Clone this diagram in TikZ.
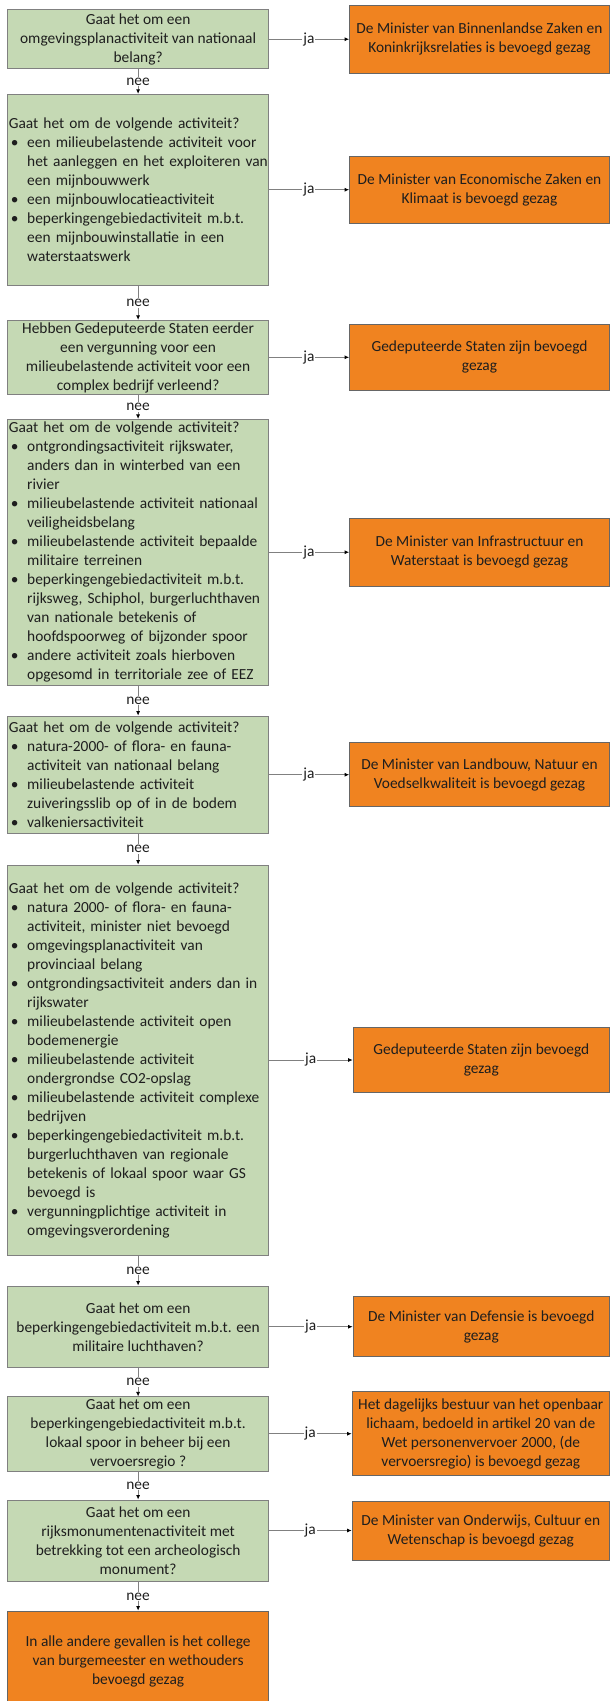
\documentclass[tikz,border=0pt]{standalone}
\usepackage{fontspec}
\setmainfont{Carlito}
\usetikzlibrary{arrows.meta}

\definecolor{qgreen}{RGB}{197,217,180}
\definecolor{aorange}{RGB}{240,131,32}
\definecolor{boxline}{RGB}{128,128,128}
\definecolor{txt}{RGB}{30,30,30}

\newcommand{\bul}[1]{\makebox[18.4pt][l]{\hspace{2pt}\textbullet}\mbox{#1}}
\newcommand{\cont}[1]{\hspace*{18.4pt}\mbox{#1}}

\begin{document}
\begin{tikzpicture}[x=1pt, y=-1pt,
    question/.style={draw=boxline, fill=qgreen, line width=0.8pt, align=center, minimum width=260.6pt, inner sep=2pt, text=txt, font=\fontsize{15.4}{19}\selectfont},
    bullets/.style={question, align=left, inner xsep=1pt, text width=258.6pt},
    answer/.style={draw=boxline!80!black, fill=aorange, line width=0.8pt, align=center, minimum width=260pt, inner sep=2pt, text=txt, font=\fontsize{15.4}{19}\selectfont},
    arrow/.style={-{Latex[length=4.5pt, width=4pt, color=black]}, draw=boxline, line width=0.8pt},
    lbl/.style={fill=white, inner sep=1pt, midway, text=txt, font=\fontsize{15.4}{19}\selectfont}
  ]
    \useasboundingbox (0,0) rectangle (610,1701);

    \node[question, minimum height=59.4pt] (q1) at (138.1,39) {Gaat het om een\\omgevingsplanactiviteit van nationaal\\belang?};
    \node[answer, minimum height=68.3pt]   (a1) at (479.5,39.2) {De Minister van Binnenlandse Zaken en\\Koninkrijksrelaties is bevoegd gezag};

    \node[bullets, minimum height=191pt] (q2) at (138.1,189.8) {Gaat het om de volgende activiteit?\\
      \bul{een milieubelastende activiteit voor}\\ \cont{het aanleggen en het exploiteren van}\\ \cont{een mijnbouwwerk}\\
      \bul{een mijnbouwlocatieactiviteit}\\
      \bul{beperkingengebiedactiviteit m.b.t.}\\ \cont{een mijnbouwinstallatie in een}\\ \cont{waterstaatswerk}};
    \node[answer, minimum height=67.3pt] (a2) at (479.5,189.7) {De Minister van Economische Zaken en\\Klimaat is bevoegd gezag};

    \node[question, minimum height=73.6pt] (q3) at (138.1,357.5) {Hebben Gedeputeerde Staten eerder\\een vergunning voor een\\milieubelastende activiteit voor een\\complex bedrijf verleend?};
    \node[answer, minimum height=66.7pt]   (a3) at (479.5,357.3) {Gedeputeerde Staten zijn bevoegd\\gezag};

    \node[bullets, minimum height=265.7pt] (q4) at (138.1,552.2) {Gaat het om de volgende activiteit?\\
      \bul{ontgrondingsactiviteit rijkswater,}\\ \cont{anders dan in winterbed van een}\\ \cont{rivier}\\
      \bul{milieubelastende activiteit nationaal}\\ \cont{veiligheidsbelang}\\
      \bul{milieubelastende activiteit bepaalde}\\ \cont{militaire terreinen}\\
      \bul{beperkingengebiedactiviteit m.b.t.}\\ \cont{rijksweg, Schiphol, burgerluchthaven}\\ \cont{van nationale betekenis of}\\ \cont{hoofdspoorweg of bijzonder spoor}\\
      \bul{andere activiteit zoals hierboven}\\ \cont{opgesomd in territoriale zee of EEZ}};
    \node[answer, minimum height=67.7pt] (a4) at (479.5,552.2) {De Minister van Infrastructuur en\\Waterstaat is bevoegd gezag};

    \node[bullets, minimum height=117.3pt] (q5) at (138.1,774.7) {Gaat het om de volgende activiteit?\\
      \bul{natura-2000- of flora- en fauna-}\\ \cont{activiteit van nationaal belang}\\
      \bul{milieubelastende activiteit}\\ \cont{zuiveringsslib op of in de bodem}\\
      \bul{valkeniersactiviteit}};
    \node[answer, minimum height=64pt] (a5) at (479.5,774.7) {De Minister van Landbouw, Natuur en\\Voedselkwaliteit is bevoegd gezag};

    \node[bullets, minimum height=390pt] (q6) at (138.1,1060) {Gaat het om de volgende activiteit?\\
      \bul{natura 2000- of flora- en fauna-}\\ \cont{activiteit, minister niet bevoegd}\\
      \bul{omgevingsplanactiviteit van}\\ \cont{provinciaal belang}\\
      \bul{ontgrondingsactiviteit anders dan in}\\ \cont{rijkswater}\\
      \bul{milieubelastende activiteit open}\\ \cont{bodemenergie}\\
      \bul{milieubelastende activiteit}\\ \cont{ondergrondse CO2-opslag}\\
      \bul{milieubelastende activiteit complexe}\\ \cont{bedrijven}\\
      \bul{beperkingengebiedactiviteit m.b.t.}\\ \cont{burgerluchthaven van regionale}\\ \cont{betekenis of lokaal spoor waar GS}\\ \cont{bevoegd is}\\
      \bul{vergunningplichtige activiteit in}\\ \cont{omgevingsverordening}};
    \node[answer, minimum width=256.5pt, minimum height=65.4pt] (a6) at (481.3,1060) {Gedeputeerde Staten zijn bevoegd\\gezag};

    \node[question, minimum height=81.7pt] (q7) at (138.1,1326.8) {Gaat het om een\\beperkingengebiedactiviteit m.b.t. een\\militaire luchthaven?};
    \node[answer, minimum width=256.5pt, minimum height=60pt] (a7) at (481.3,1326.7) {De Minister van Defensie is bevoegd\\gezag};

    \node[question, minimum height=73.4pt] (q8) at (138.1,1434) {Gaat het om een\\beperkingengebiedactiviteit m.b.t.\\lokaal spoor in beheer bij een\\vervoersregio ?};
    \node[answer, minimum width=257.5pt, minimum height=84pt] (a8) at (480.8,1433.7) {Het dagelijks bestuur van het openbaar\\lichaam, bedoeld in artikel 20 van de\\Wet personenvervoer 2000, (de\\vervoersregio) is bevoegd gezag};

    \node[question, minimum height=81.7pt] (q9) at (138.1,1540.8) {Gaat het om een\\rijksmonumentenactiviteit met\\betrekking tot een archeologisch\\monument?};
    \node[answer, minimum width=257.5pt, minimum height=59pt] (a9) at (480.8,1530.5) {De Minister van Onderwijs, Cultuur en\\Wetenschap is bevoegd gezag};

    \node[answer, minimum width=260.6pt, minimum height=100pt] (rest) at (138.1,1661) {In alle andere gevallen is het college\\van burgemeester en wethouders\\bevoegd gezag};

    % ja
    \draw[arrow] (q1.east |- a1.west) -- node[lbl] {ja} (a1.west);
    \draw[arrow] (q2.east |- a2.west) -- node[lbl] {ja} (a2.west);
    \draw[arrow] (q3.east |- a3.west) -- node[lbl] {ja} (a3.west);
    \draw[arrow] (q4.east |- a4.west) -- node[lbl] {ja} (a4.west);
    \draw[arrow] (q5.east |- a5.west) -- node[lbl] {ja} (a5.west);
    \draw[arrow] (q6.east |- a6.west) -- node[lbl] {ja} (a6.west);
    \draw[arrow] (q7.east |- a7.west) -- node[lbl] {ja} (a7.west);
    \draw[arrow] (q8.east |- a8.west) -- node[lbl] {ja} (a8.west);
    \draw[arrow] (q9.east |- a9.west) -- node[lbl] {ja} (a9.west);

    % nee
    \draw[arrow] (q1) -- node[lbl] {nee} (q2);
    \draw[arrow] (q2) -- node[lbl] {nee} (q3);
    \draw[arrow] (q3) -- node[lbl] {nee} (q4);
    \draw[arrow] (q4) -- node[lbl] {nee} (q5);
    \draw[arrow] (q5) -- node[lbl] {nee} (q6);
    \draw[arrow] (q6) -- node[lbl] {nee} (q7);
    \draw[arrow] (q7) -- node[lbl] {nee} (q8);
    \draw[arrow] (q8) -- node[lbl] {nee} (q9);
    \draw[arrow] (q9) -- node[lbl] {nee} (rest);
  \end{tikzpicture}
\end{document}
